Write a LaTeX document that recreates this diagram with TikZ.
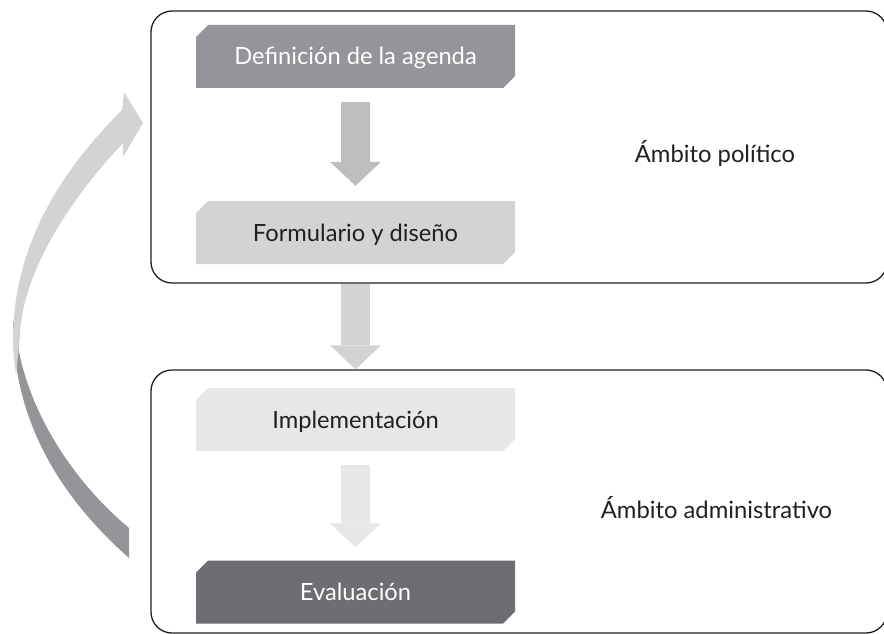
\documentclass[tikz,border=0pt]{standalone}
\usepackage{fontspec}
\setmainfont{Lato}
\usetikzlibrary{shapes.misc,arrows.meta,calc}
\definecolor{gA}{HTML}{939598}
\definecolor{gB}{HTML}{BCBEC0}
\definecolor{gC}{HTML}{D1D3D4}
\definecolor{gD}{HTML}{E6E7E8}
\definecolor{gE}{HTML}{6D6E71}
\definecolor{ink}{HTML}{231F20}
\begin{document}
\begin{tikzpicture}[x=1pt,y=-1pt,
  stage/.style={chamfered rectangle, chamfered rectangle corners={north west,south east},
    chamfered rectangle xsep=6pt, chamfered rectangle ysep=6pt,
    minimum width=319pt, minimum height=63pt, inner sep=0pt,
    text height=17pt, text depth=0pt, font=\fontsize{23.7}{28}\selectfont},
  area/.style={draw=ink, line width=1.3pt, rounded corners=21pt, minimum width=736pt, inner sep=0pt},
  zone/.style={font=\fontsize{23.8}{28}\selectfont, text=ink, anchor=base},
  blockarrow/.style={line width=29pt, -{Triangle[length=24pt,width=51pt,line width=0pt]}}
]
\path[use as bounding box] (0,0) rectangle (884,634);
\clip (0,0) rectangle (884,634);
% curved feedback arrow
\fill[gA] (13,322) .. controls (13,420) and (59,496) .. (129,558) -- (129,528)
  .. controls (69,478) and (20,400) .. (15,322) -- cycle;
\fill[gC] (122,110) -- (124,92) -- (143,123) -- (123,157) -- (123,143)
  .. controls (85,183) and (23,262) .. (20,335)
  .. controls (18,355) and (17,365) .. (16,375)
  .. controls (14,360) and (13,350) .. (13,340)
  .. controls (13,240) and (67,165) .. (122,110) -- cycle;
% areas
\node[area, minimum height=272pt] (pol) at (519,147) {};
\node[area, minimum height=263pt] (adm) at (519,501.5) {};
% stages
\node[stage, fill=gA, text=white] (def) at (355.5,56.5) {Definición de la agenda};
\node[stage, fill=gC, text=ink] (form) at (355.5,232.5) {Formulario y diseño};
\node[stage, fill=gD, text=ink] (impl) at (355.5,419.5) {Implementación};
\node[stage, fill=gE, text=white] (eval) at (355.5,592) {Evaluación};
% arrows
\draw[blockarrow, gB, shorten <=14pt, shorten >=15pt] (def) -- (form);
\draw[blockarrow, gC] (pol.south -| def.south) -- (adm.north -| def.south);
\draw[blockarrow, gD, shorten <=14pt, shorten >=13pt] (impl) -- (eval);
% zone labels
\node[zone] (zpol) at (715,162) {Ámbito político};
\node[zone] (zadm) at (716.5,518) {Ámbito administrativo};
\end{tikzpicture}
\end{document}
